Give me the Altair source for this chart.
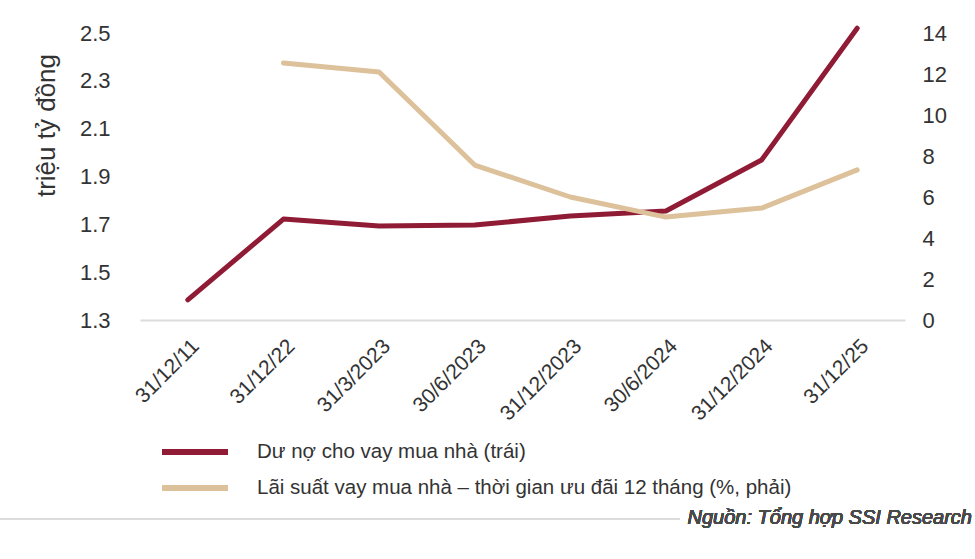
import altair as alt
import pandas as pd

dates = ["31/12/11", "31/12/22", "31/3/2023", "30/6/2023", "31/12/2023",
         "30/6/2024", "31/12/2024", "31/12/25"]
du_no = [1.384, 1.722, 1.693, 1.697, 1.735, 1.756, 1.969, 2.52]
lai_suat = [None, 12.54, 12.1, 7.56, 6.0, 5.02, 5.46, 7.32]

s1 = "Dư nợ cho vay mua nhà (trái)"
s2 = "Lãi suất vay mua nhà – thời gian ưu đãi 12 tháng (%, phải)"

rows = []
for d, v in zip(dates, du_no):
    rows.append({"date": d, "value": v, "series": s1})
for d, v in zip(dates, lai_suat):
    if v is not None:
        rows.append({"date": d, "value": v, "series": s2})
df = pd.DataFrame(rows)

FONT = "Liberation Sans"
TXT = "#333333"

x_enc = alt.X("date:N", sort=dates, scale=alt.Scale(type="point", padding=0.5),
              axis=alt.Axis(title=None, labelAngle=-45, labelFontSize=21, labelColor=TXT,
                            labelFont=FONT, ticks=False, domainColor="#dcdcdc",
                            domainWidth=2, labelPadding=15, grid=False))

color = alt.Color("series:N", scale=alt.Scale(domain=[s1, s2], range=["#8f1b35", "#dcc19b"]),
                  legend=alt.Legend(title=None, orient="none", legendX=19, legendY=404,
                                    symbolType="stroke", symbolSize=4356, symbolStrokeWidth=6,
                                    labelFontSize=20.5, labelFont=FONT, labelColor=TXT,
                                    clipHeight=30, labelLimit=0, labelOffset=26,
                                    rowPadding=6, padding=0))

left = alt.Chart(df).transform_filter(alt.datum.series == s1).mark_line(
    strokeWidth=5, strokeCap="round", strokeJoin="round").encode(
    x=x_enc,
    y=alt.Y("value:Q", scale=alt.Scale(domain=[1.3, 2.5], nice=False, zero=False),
            axis=alt.Axis(title="triệu tỷ đồng", values=[1.3, 1.5, 1.7, 1.9, 2.1, 2.3, 2.5],
                          format=".1f", labelFontSize=22, labelFont=FONT, labelColor=TXT,
                          ticks=False, domain=False, grid=False, labelPadding=30,
                          titleFontSize=26, titleFont=FONT, titleColor=TXT,
                          titleFontWeight="normal", titleX=-94, titleY=92,
                          titleAlign="center", titleBaseline="middle", titleAngle=270)),
    color=color,
)

right = alt.Chart(df).transform_filter(alt.datum.series == s2).mark_line(
    strokeWidth=5, strokeCap="round", strokeJoin="round").encode(
    x=x_enc,
    y=alt.Y("value:Q", scale=alt.Scale(domain=[0, 14], nice=False),
            axis=alt.Axis(title=None, orient="right", values=list(range(0, 15, 2)),
                          labelFontSize=22, labelFont=FONT, labelColor=TXT,
                          ticks=False, domain=False, grid=False, labelPadding=17)),
    color=color,
)

sep = alt.Chart(df).mark_rule(color="#dcdcdc", strokeWidth=2).encode(
    x=alt.value(-140), x2=alt.value(540), y=alt.value(486))

source = alt.Chart(df).mark_text(text="Nguồn: Tổng hợp SSI Research", align="right",
                                 baseline="middle", fontSize=20, fontStyle="italic",
                                 fontWeight="normal", font=FONT, color="#4a4a4a").encode(
    x=alt.value(832), y=alt.value(485))

chart = alt.layer(left, right, sep, source).resolve_scale(y="independent").properties(
    width=765, height=287, background="white",
    autosize=alt.AutoSizeParams(type="none"),
    padding={"left": 140, "top": 33, "right": 70, "bottom": 239},
).configure_view(strokeWidth=0)

chart.save("out.html", embed_options={"renderer": "svg", "actions": False})
